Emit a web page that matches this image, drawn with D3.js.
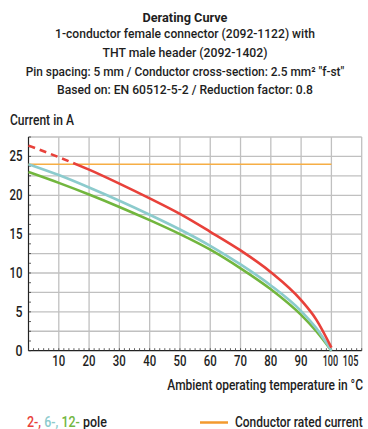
<!DOCTYPE html>
<html><head><meta charset="utf-8">
<script src="https://cdn.jsdelivr.net/npm/d3@7"></script>
<style>
html,body{margin:0;padding:0;background:#fff;}
svg{display:block;font-family:Roboto,"Noto Sans",sans-serif;}
</style></head>
<body>
<svg id="c" width="368" height="429"></svg>
<script>
// ---- data ----
const temps   = [0, 10, 20, 30, 40, 50, 60, 70, 80, 90, 95, 100];
const pole2   = [26.4, 24.9, 23.3, 21.5, 19.6, 17.6, 15.3, 12.9, 10.1, 6.5, 4.0, 0.4];
const pole6   = [24.0, 22.6, 21.0, 19.3, 17.5, 15.6, 13.5, 11.1, 8.4, 5.1, 2.9, 0];
const pole12  = [23.0, 21.6, 20.1, 18.5, 16.8, 15.0, 13.0, 10.6, 7.9, 4.6, 2.5, 0];
const ratedCurrent = 24;
const ratedRange = [0, 100];
const dashedUntil = 16;
const xTicks = [10, 20, 30, 40, 50, 60, 70, 80, 90, 100, 105];
const yTicks = [0, 5, 10, 15, 20, 25];
const titleLines = [
  "Derating Curve",
  "1-conductor female connector (2092-1122) with",
  "THT male header (2092-1402)",
  "Pin spacing: 5 mm / Conductor cross-section: 2.5 mm\u00B2 \"f-st\"",
  "Based on: EN 60512-5-2 / Reduction factor: 0.8"
];

const svg = d3.select("#c");
const textCol = "#1e1e1e";
const gridCol = "#c0c0c0";
const red = "#e8413a", cyan = "#8ccbcd", green = "#72b63e", orange = "#f6ae45";
const FONT = "Roboto, 'Noto Sans', sans-serif";

const x = d3.scaleLinear().domain([0, 110]).range([28.5, 361.7]);
const y = d3.scaleLinear().domain([0, 27.5]).range([350.7, 137]);

// text squeezed horizontally to a given width (condensed look)
function fitText(parent, str, px, py, anchor, size, width, weight, fill) {
  const t = parent.append("text").attr("x", 0).attr("y", 0)
    .attr("text-anchor", anchor).attr("font-size", size).attr("font-family", FONT)
    .attr("font-weight", weight || 500).attr("fill", fill || textCol).text(str);
  const n = t.node().getComputedTextLength();
  const sx = width / n;
  t.attr("transform", `translate(${px},${py}) scale(${sx},1)`);
  return t;
}

// ---- title ----
const tl = [
  {y: 21.5, w: 85, s: 13.5, b: "bold"},
  {y: 38, w: 260, s: 12.5},
  {y: 57, w: 165, s: 12.5},
  {y: 75.5, w: 319, s: 12.5},
  {y: 94, w: 256, s: 12.5}
];
titleLines.forEach((t, i) => fitText(svg, t, 185, tl[i].y, "middle", tl[i].s, tl[i].w, tl[i].b));

fitText(svg, "Current in A", 10, 124.5, "start", 14, 64);

// ---- grid ----
const g = svg.append("g");
d3.range(10, 111, 10).forEach(v => {
  g.append("line").attr("x1", x(v)).attr("x2", x(v)).attr("y1", y(0)).attr("y2", y(27.5))
    .attr("stroke", gridCol).attr("stroke-width", 1.3);
});
d3.range(2.5, 27.6, 2.5).forEach(v => {
  g.append("line").attr("x1", x(0)).attr("x2", x(110)).attr("y1", y(v)).attr("y2", y(v))
    .attr("stroke", gridCol).attr("stroke-width", 1.3);
});

// ---- tick labels (positioned through the scales) ----
xTicks.forEach(d => {
  const w = String(d).length === 3 ? 15.5 : 13;
  const off = d === 105 ? 4 : (d === 100 ? -1 : 0);
  fitText(svg, String(d), x(d) + off, y(0) + 15, "middle", 14.5, w);
});
yTicks.forEach(d => {
  const w = String(d).length === 2 ? 13 : 7;
  fitText(svg, String(d), x(0) - 6, y(d) + 5, "end", 14.5, w);
});

// axis lines with minor ticks
svg.append("line").attr("x1", x(0)).attr("x2", x(110)).attr("y1", y(0)).attr("y2", y(0))
  .attr("stroke", "#222").attr("stroke-width", 1.2);
svg.append("line").attr("x1", x(0)).attr("x2", x(0)).attr("y1", y(0)).attr("y2", y(27.5))
  .attr("stroke", "#222").attr("stroke-width", 1.2);
d3.range(0, 110.1, 5/3).forEach(v => {
  svg.append("line").attr("x1", x(v)).attr("x2", x(v)).attr("y1", y(0)).attr("y2", y(0) - 2.5)
    .attr("stroke", "#333").attr("stroke-width", 0.8);
});
d3.range(0, 27.6, 1.25).forEach(v => {
  svg.append("line").attr("x1", x(0)).attr("x2", x(0) + 2.5).attr("y1", y(v)).attr("y2", y(v))
    .attr("stroke", "#333").attr("stroke-width", 0.8);
});

// ---- rated current ----
svg.append("line").attr("x1", x(ratedRange[0])).attr("x2", x(ratedRange[1]))
  .attr("y1", y(ratedCurrent)).attr("y2", y(ratedCurrent))
  .attr("stroke", orange).attr("stroke-width", 1.5);

// ---- curves ----
const defs = svg.append("defs");
defs.append("clipPath").attr("id", "cl").append("rect")
  .attr("x", 0).attr("y", 0).attr("width", x(dashedUntil)).attr("height", 429);
defs.append("clipPath").attr("id", "cr").append("rect")
  .attr("x", x(dashedUntil)).attr("y", 0).attr("width", 368).attr("height", 429);

const line = d3.line().x(d => x(d[0])).y(d => y(d[1])).curve(d3.curveMonotoneX);
const mk = arr => temps.map((t, i) => [t, arr[i]]);

svg.append("path").datum(mk(pole12)).attr("d", line).attr("fill", "none")
  .attr("stroke", green).attr("stroke-width", 2.6);
svg.append("path").datum(mk(pole6)).attr("d", line).attr("fill", "none")
  .attr("stroke", cyan).attr("stroke-width", 2.6);
svg.append("path").datum(mk(pole2)).attr("d", line).attr("fill", "none")
  .attr("stroke", red).attr("stroke-width", 2.6).attr("stroke-dasharray", "7,5")
  .attr("clip-path", "url(#cl)");
svg.append("path").datum(mk(pole2)).attr("d", line).attr("fill", "none")
  .attr("stroke", red).attr("stroke-width", 2.6).attr("clip-path", "url(#cr)");

// ---- x label ----
fitText(svg, "Ambient operating temperature in \u00B0C", 363, 389.5, "end", 14, 196);

// ---- legend ----
const lg = svg.append("text").attr("x", 0).attr("y", 0).attr("font-size", 14)
  .attr("font-family", FONT).attr("font-weight", 500);
lg.append("tspan").attr("fill", red).text("2-, ");
lg.append("tspan").attr("fill", cyan).text("6-, ");
lg.append("tspan").attr("fill", green).text("12- ");
lg.append("tspan").attr("fill", textCol).text("pole");
const lgw = lg.node().getComputedTextLength();
lg.attr("transform", `translate(27,427) scale(${80 / lgw},1)`);

svg.append("line").attr("x1", 200).attr("x2", 228).attr("y1", 422.5).attr("y2", 422.5)
  .attr("stroke", "#f39a2e").attr("stroke-width", 2.5);
fitText(svg, "Conductor rated current", 235, 427, "start", 14, 128);
</script>
</body></html>
